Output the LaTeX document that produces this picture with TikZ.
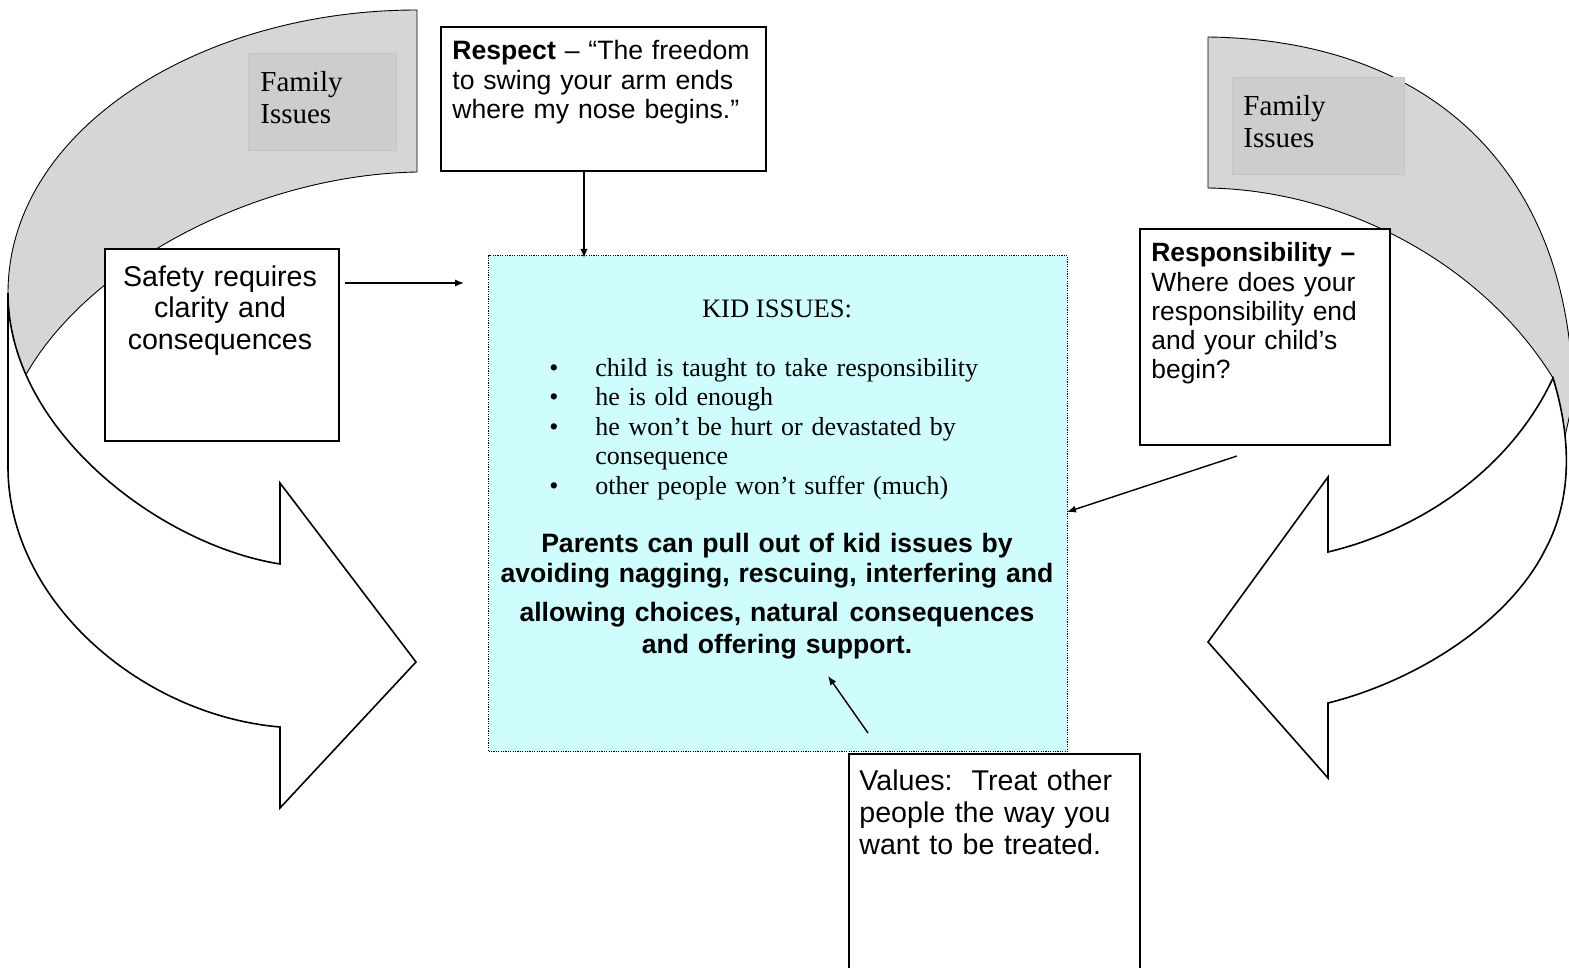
\documentclass[tikz,border=0pt]{standalone}
\usepackage{fontspec}
\setmainfont{Liberation Serif}
\newfontfamily\arialf{Liberation Sans}
\usetikzlibrary{arrows.meta}
\definecolor{bandgrey}{RGB}{214,214,214}
\definecolor{famgrey}{RGB}{205,205,205}
\definecolor{famedge}{RGB}{198,198,198}
\definecolor{kidcyan}{RGB}{207,252,252}
\begin{document}
\begin{tikzpicture}[x=0.5pt,y=-0.5pt,line join=miter,
  band/.style={fill=bandgrey,draw=black,line width=0.45pt},
  whitearrow/.style={fill=white,draw=black,line width=0.8pt},
  box/.style={rectangle,draw=black,fill=white,line width=0.8pt,inner sep=0pt,anchor=north west},
  kidbox/.style={rectangle,draw=black,fill=kidcyan,line width=0.6pt,dash pattern=on 0.6pt off 0.6pt,inner sep=0pt,anchor=north west},
  famsq/.style={rectangle,fill=famgrey,draw=famedge,line width=0.4pt,inner sep=0pt,anchor=north west},
  conn/.style={draw=black,line width=0.7pt,-{Latex[length=4.5pt,width=3.6pt]}},
  txt/.style={inner sep=0pt,align=left},
  ctxt/.style={inner sep=0pt,align=center}
]
\useasboundingbox (0,0) rectangle (1569,968);

% left curved arrow
\path[band] (417,10) -- (417,172) .. controls (250,175) and (80,270) .. (22,382) -- (8,382) -- (8,293) .. controls (8,130) and (200,10) .. (417,10) -- cycle;
\path[whitearrow] (8,293) -- (8,467) .. controls (8,600) and (140,715) .. (280,727) -- (280,808) -- (416,662) -- (280,483) -- (280,564) .. controls (160,545) and (8,430) .. (8,293) -- cycle;

% right curved arrow
\path[band] (1208,37) -- (1208,188) .. controls (1340,190) and (1480,260) .. (1553,378) -- (1545,420) -- (1562,450) -- (1573,400) .. controls (1572,180) and (1440,40) .. (1208,37) -- cycle;
\path[whitearrow] (1553,378) .. controls (1572,440) and (1572,500) .. (1545,550) .. controls (1510,620) and (1420,680) .. (1328,703) -- (1328,778) -- (1208,642) -- (1328,477) -- (1328,552) .. controls (1420,530) and (1510,470) .. (1553,378) -- cycle;

% family issues labels
\node[famsq,minimum width=74pt,minimum height=48.5pt] (famL) at (248,53) {};
\node[famsq,minimum width=86pt,minimum height=48.5pt] (famR) at (1232,77) {};
\node[txt,anchor=base west,text width=70pt,font=\fontsize{14.5}{16}\selectfont] (famLt) at (260,92) {Family\\Issues};
\node[txt,anchor=base west,text width=80pt,font=\fontsize{14.5}{16}\selectfont] (famRt) at (1243,116) {Family\\Issues};

% boxes
\node[kidbox,minimum width=289.5pt,minimum height=248pt] (kid) at (488,255) {};
\node[box,minimum width=162.5pt,minimum height=72pt] (respect) at (440,26) {};
\node[box,minimum width=117pt,minimum height=96pt] (safety) at (104,248) {};
\node[box,minimum width=125pt,minimum height=108pt] (resp) at (1139,228) {};
\node[box,minimum width=145.5pt,minimum height=125pt] (values) at (848,753) {};

% texts
\node[txt,anchor=base west,text width=160pt,font=\arialf\fontsize{13.3}{14.75}\selectfont] (respectt) at (452,60)
  {\textbf{Respect} – “The freedom\\to swing your arm ends\\where my nose begins.”};
\node[ctxt,anchor=base,text width=115pt,font=\arialf\fontsize{14.3}{16}\selectfont] (safetyt) at (220,286)
  {Safety requires\\clarity and\\consequences};
\node[txt,anchor=base west,text width=122pt,font=\arialf\fontsize{13.2}{14.6}\selectfont] (respt) at (1151,262)
  {\textbf{Responsibility –}\\Where does your\\responsibility end\\and your child’s\\begin?};
\node[txt,anchor=base west,text width=140pt,font=\arialf\fontsize{14.3}{16}\selectfont] (valuest) at (859,790)
  {Values:\ \ Treat other\\people the way you\\want to be treated.};
\node[ctxt,anchor=base,font=\fontsize{13.3}{14.75}\selectfont] (kidt) at (777,318) {KID ISSUES:};
\node[txt,anchor=base west,text width=260pt,font=\fontsize{13}{14.75}\selectfont] (kidlist) at (549,376)
  {\makebox[23pt][l]{\textbullet}child is taught to take responsibility\\
   \makebox[23pt][l]{\textbullet}he is old enough\\
   \makebox[23pt][l]{\textbullet}he won’t be hurt or devastated by\\
   \hspace*{23pt}consequence\\
   \makebox[23pt][l]{\textbullet}other people won’t suffer (much)};
\node[ctxt,anchor=base,text width=290pt,font=\arialf\bfseries\fontsize{13.3}{15}\selectfont] (kidbold) at (777,552)
  {Parents can pull out of kid issues by\\avoiding nagging, rescuing, interfering and\\[4.5pt]allowing choices, natural\hspace{1pt} consequences\\[1pt]and offering support.};

% connectors
\coordinate (s1) at (345,283);
\coordinate (s2) at (464,283);
\coordinate (r1) at (584,170);
\coordinate (r2) at (584,258);
\coordinate (p1) at (1237,456);
\coordinate (p2) at (1067,512);
\coordinate (v1) at (868,733);
\coordinate (v2) at (828,676);
\draw[conn] (s1) -- (s2);
\draw[conn] (r1) -- (r2);
\draw[conn] (p1) -- (p2);
\draw[conn] (v1) -- (v2);
\end{tikzpicture}
\end{document}
